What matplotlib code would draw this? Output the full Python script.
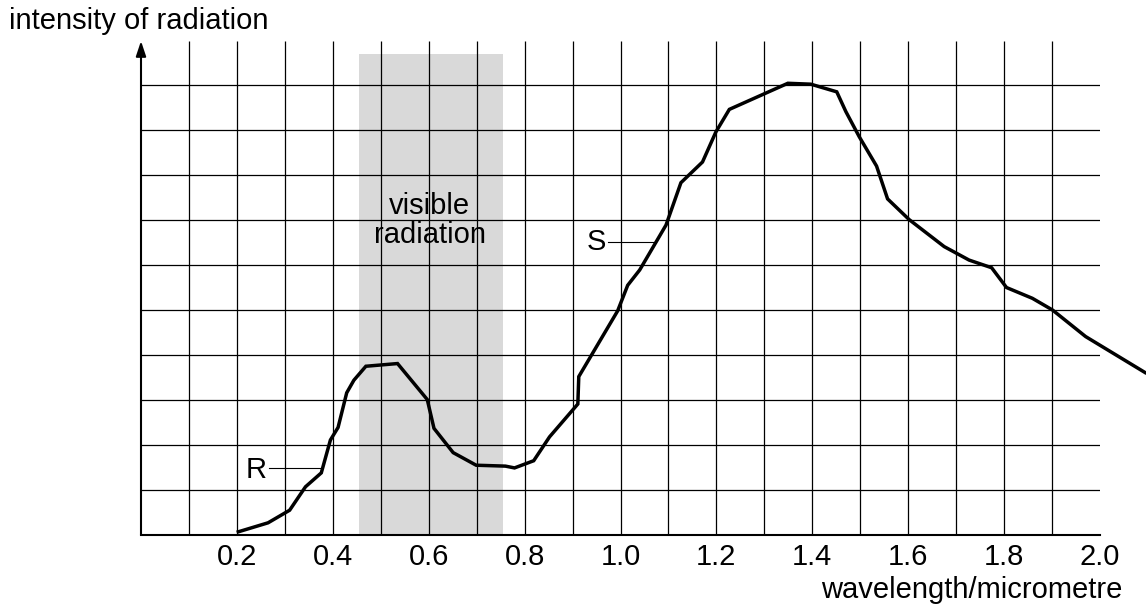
import matplotlib.pyplot as plt
import numpy as np

plt.rcParams["font.family"] = ["Liberation Sans", "DejaVu Sans"]

# curve (wavelength in micrometre, intensity in grid units)
wavelength = [0.203, 0.265, 0.310, 0.343, 0.376, 0.395, 0.411, 0.429, 0.444,
              0.469, 0.535, 0.597, 0.611, 0.651, 0.699, 0.760, 0.779, 0.819,
              0.852, 0.911, 0.913, 0.994, 1.015, 1.040, 1.095, 1.126, 1.171,
              1.199, 1.227, 1.349, 1.397, 1.451, 1.470, 1.498, 1.534, 1.557,
              1.602, 1.675, 1.727, 1.774, 1.805, 1.859, 1.901, 1.970, 2.094]
intensity = [0.06, 0.26, 0.54, 1.06, 1.37, 2.10, 2.38, 3.15, 3.43,
             3.74, 3.80, 3.00, 2.36, 1.82, 1.54, 1.52, 1.48, 1.64,
             2.17, 2.90, 3.51, 4.97, 5.54, 5.88, 6.88, 7.82, 8.28,
             8.95, 9.45, 10.03, 10.01, 9.84, 9.40, 8.84, 8.19, 7.46,
             7.00, 6.40, 6.10, 5.93, 5.49, 5.25, 4.99, 4.40, 3.60]

xtick_vals = [0.2, 0.4, 0.6, 0.8, 1.0, 1.2, 1.4, 1.6, 1.8, 2.0]
xtick_labels = ["0.2", "0.4", "0.6", "0.8", "1.0", "1.2", "1.4", "1.6", "1.8", "2.0"]
grid_x = np.arange(1, 20) / 10   # 0.1 .. 1.9
grid_y = np.arange(1, 11)        # 1 .. 10
visible_band = (0.455, 0.755, 10.69)

FS = 21

fig = plt.figure(figsize=(11.46, 6.10), dpi=100)
ax = fig.add_axes([141 / 1146, 75.5 / 610, 959 / 1146, 493.5 / 610])
xmax, ytop = 2.0, 10.97
ax.set_xlim(0, xmax)
ax.set_ylim(0, ytop)

# visible band
lo, hi, top = visible_band
ax.fill_between([lo, hi], 0, top, color="#d9d9d9", lw=0, zorder=0)

# grid
ax.vlines(grid_x, 0, ytop, color="black", lw=0.9, zorder=1)
ax.hlines(grid_y, 0, xmax, color="black", lw=0.9, zorder=1)

for side in ["top", "right", "left"]:
    ax.spines[side].set_visible(False)
ax.spines["bottom"].set_linewidth(1.5)
ax.annotate("", xy=(0, ytop), xytext=(0, 0), annotation_clip=False,
            arrowprops=dict(arrowstyle="-|>,head_length=0.9,head_width=0.3",
                            color="black", lw=1.5, shrinkA=0, shrinkB=0))

ax.plot(wavelength, intensity, color="black", lw=2.5, clip_on=False, zorder=3,
        solid_joinstyle="miter")

ax.set_yticks([])
ax.set_xticks(xtick_vals)
ax.set_xticklabels(xtick_labels, fontsize=FS)
ax.tick_params(axis="x", length=0, pad=6)

# labels R and S
ax.text(0.241, 1.43, "R", fontsize=FS, ha="center", va="center")
ax.plot([0.267, 0.374], [1.47, 1.47], color="black", lw=0.8)
ax.text(0.949, 6.51, "S", fontsize=FS, ha="center", va="center")
ax.plot([0.974, 1.074], [6.51, 6.51], color="black", lw=0.8)
ax.text(0.602, 6.97, "visible\nradiation", fontsize=FS, ha="center",
        va="center", linespacing=1.05)

fig.text(9 / 1146, 1 - 21 / 610, "intensity of radiation", fontsize=FS,
         ha="left", va="center")
fig.text(1122 / 1146, 1 - 590 / 610, "wavelength/micrometre", fontsize=FS,
         ha="right", va="center")

fig.savefig("out.png", dpi=100)
